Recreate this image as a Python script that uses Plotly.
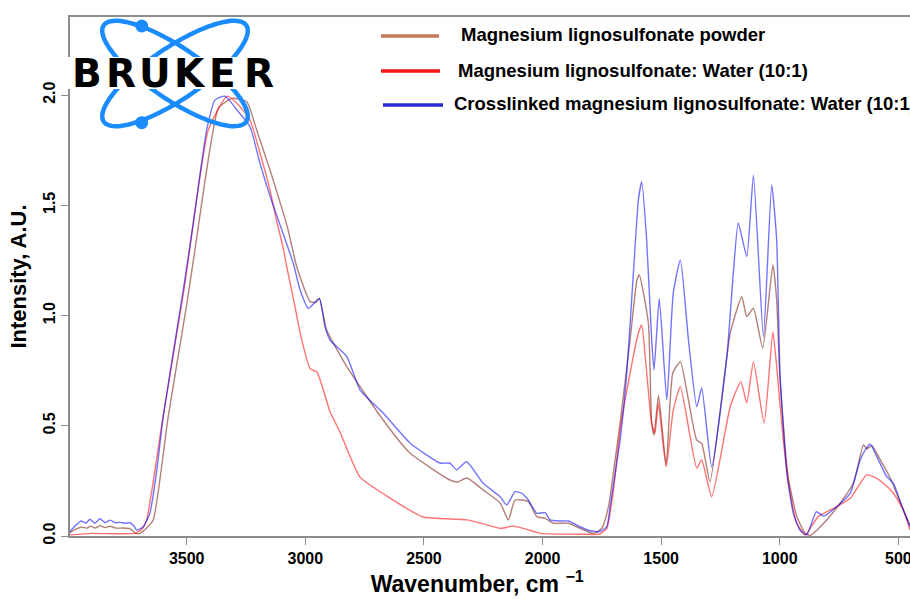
import numpy as np
import plotly.graph_objects as go

# ---------------- data ----------------
series_names = [
    "Magnesium lignosulfonate powder",
    "Magnesium lignosulfonate: Water (10:1)",
    "Crosslinked magnesium lignosulfonate: Water (10:1)",
]

wn_powder = [3992, 3970, 3945, 3920, 3905, 3885, 3865, 3845, 3822, 3800, 3770, 3740, 3715, 3697,
             3670, 3641, 3578, 3500, 3465, 3430, 3395, 3367, 3310, 3247, 3205, 3149, 3094, 3073,
             3036, 2980, 2955, 2941, 2910, 2825, 2672, 2559, 2390, 2360, 2318, 2251, 2179, 2144,
             2116, 2060, 2024, 1989, 1954, 1891, 1842, 1786, 1750, 1722, 1694, 1673, 1631, 1602,
             1592, 1554, 1540, 1530, 1511, 1479, 1451, 1419, 1385, 1350, 1329, 1294, 1209, 1160,
             1139, 1111, 1072, 1029, 1013, 999, 965, 928, 893, 872, 802, 746, 690, 647, 633, 612,
             576, 534, 479, 451]
int_powder = [0.015, 0.030, 0.040, 0.036, 0.045, 0.036, 0.047, 0.038, 0.044, 0.036, 0.036, 0.033,
              0.012, 0.012, 0.035, 0.073, 0.541, 1.050, 1.300, 1.560, 1.800, 1.940, 1.985, 1.970,
              1.841, 1.660, 1.470, 1.390, 1.220, 1.063, 1.060, 1.078, 0.934, 0.768, 0.526, 0.376,
              0.254, 0.245, 0.263, 0.209, 0.150, 0.073, 0.163, 0.156, 0.088, 0.080, 0.058, 0.058,
              0.035, 0.012, 0.035, 0.133, 0.345, 0.512, 0.889, 1.161, 1.184, 0.966, 0.512, 0.458,
              0.639, 0.322, 0.739, 0.790, 0.617, 0.435, 0.420, 0.246, 0.919, 1.085, 0.995, 1.033,
              0.853, 1.229, 1.070, 0.710, 0.269, 0.088, 0.012, 0.003, 0.073, 0.148, 0.239, 0.413,
              0.395, 0.410, 0.345, 0.262, 0.118, 0.050]

wn_water = [3992, 3900, 3800, 3720, 3690, 3669, 3600, 3511, 3409, 3329, 3275, 3233, 3191, 3149,
            3121, 3094, 3078, 3036, 3022, 2980, 2951, 2924, 2896, 2854, 2770, 2643, 2503, 2318,
            2179, 2166, 2123, 2067, 2010, 1842, 1758, 1729, 1701, 1673, 1631, 1596, 1582, 1567,
            1540, 1526, 1512, 1479, 1449, 1419, 1350, 1329, 1287, 1209, 1164, 1139, 1111, 1066,
            1029, 1013, 985, 956, 928, 893, 838, 760, 703, 661, 633, 605, 563, 521, 479, 451]
int_water = [0.005, 0.012, 0.010, 0.012, 0.030, 0.073, 0.540, 1.120, 1.841, 1.995, 1.947, 1.887,
             1.737, 1.569, 1.430, 1.310, 1.220, 1.000, 0.921, 0.760, 0.744, 0.662, 0.564, 0.472,
             0.268, 0.172, 0.086, 0.073, 0.035, 0.036, 0.045, 0.030, 0.012, 0.008, 0.009, 0.035,
             0.209, 0.481, 0.739, 0.921, 0.957, 0.813, 0.512, 0.467, 0.603, 0.314, 0.571, 0.677,
             0.308, 0.345, 0.178, 0.586, 0.700, 0.603, 0.790, 0.512, 0.927, 0.768, 0.435, 0.194,
             0.058, 0.005, 0.088, 0.133, 0.171, 0.239, 0.277, 0.269, 0.239, 0.194, 0.118, 0.027]

wn_cross = [3992, 3971, 3945, 3925, 3908, 3887, 3866, 3844, 3823, 3800, 3781, 3760, 3739, 3722,
            3711, 3683, 3669, 3655, 3626, 3599, 3514, 3493, 3472, 3444, 3416, 3381, 3339, 3282,
            3233, 3191, 3148, 3099, 3051, 3022, 2987, 2941, 2917, 2896, 2825, 2769, 2672, 2559,
            2432, 2390, 2362, 2320, 2251, 2179, 2151, 2116, 2088, 2060, 2024, 1989, 1968, 1926,
            1891, 1842, 1800, 1758, 1729, 1715, 1694, 1673, 1645, 1617, 1596, 1582, 1561, 1540,
            1530, 1508, 1476, 1449, 1419, 1385, 1350, 1329, 1287, 1223, 1196, 1175, 1139, 1111,
            1069, 1034, 1013, 999, 970, 943, 915, 886, 846, 815, 760, 703, 661, 640, 619, 591,
            549, 521, 479, 451]
int_cross = [0.020, 0.045, 0.068, 0.058, 0.076, 0.058, 0.078, 0.060, 0.072, 0.060, 0.062, 0.058,
             0.060, 0.045, 0.027, 0.042, 0.070, 0.103, 0.300, 0.541, 1.120, 1.270, 1.420, 1.640,
             1.841, 1.977, 1.995, 1.924, 1.856, 1.690, 1.539, 1.388, 1.237, 1.116, 1.033, 1.078,
             0.949, 0.889, 0.813, 0.662, 0.558, 0.422, 0.331, 0.330, 0.300, 0.337, 0.240, 0.178,
             0.141, 0.201, 0.194, 0.163, 0.103, 0.106, 0.073, 0.068, 0.068, 0.042, 0.024, 0.020,
             0.042, 0.133, 0.284, 0.435, 0.739, 1.193, 1.524, 1.607, 1.342, 0.889, 0.753, 1.078,
             0.617, 1.102, 1.252, 0.889, 0.586, 0.671, 0.314, 0.813, 1.191, 1.420, 1.267, 1.637,
             0.904, 1.592, 1.342, 0.738, 0.284, 0.103, 0.027, 0.005, 0.110, 0.090, 0.133, 0.194,
             0.345, 0.390, 0.417, 0.360, 0.269, 0.239, 0.118, 0.042]

x_tick_vals = [3500, 3000, 2500, 2000, 1500, 1000, 500]
x_tick_text = ["3500", "3000", "2500", "2000", "1500", "1000", "500"]
y_tick_vals = [0.0, 0.5, 1.0, 1.5, 2.0]
y_tick_text = ["0.0", "0.5", "1.0", "1.5", "2.0"]

# ---------------- layout geometry ----------------
W, H = 910, 599
L, R, T, B = 70, 0, 17, 63
PW, PH = W - L - R, H - T - B
FONT = "Liberation Sans, Arial, Helvetica, sans-serif"
LOGO_FONT = "DejaVu Sans, Liberation Sans, sans-serif"


def px(x):
    return (x - L) / PW


def py(y):
    return (H - B - y) / PH


line_colors = ["rgba(139,60,50,0.65)", "rgba(255,0,0,0.55)", "rgba(0,0,255,0.55)"]
legend_colors = ["#C27A57", "#F41414", "#2B2BCF"]

fig = go.Figure()
for name, xs, ys, col in zip(series_names,
                             [wn_powder, wn_water, wn_cross],
                             [int_powder, int_water, int_cross],
                             line_colors):
    fig.add_trace(go.Scatter(x=xs, y=ys, mode="lines", name=name, showlegend=False,
                             line=dict(color=col, width=1.4, shape="spline", smoothing=0.5)))

shapes = []
annotations = []

# ---- hand-drawn legend (line samples + labels) ----
leg_rows = [(36, 381, 439, 459), (71, 381, 440, 456), (105, 383, 443, 452)]
for (yy, x0, x1, xt), name, col in zip(leg_rows, series_names, legend_colors):
    shapes.append(dict(type="line", xref="paper", yref="paper", x0=px(x0), x1=px(x1),
                       y0=py(yy), y1=py(yy), line=dict(color=col, width=3.5)))
    annotations.append(dict(text=name, xref="paper", yref="paper", x=px(xt), y=py(yy - 1),
                            xanchor="left", yanchor="middle", showarrow=False,
                            font=dict(family=FONT, size=18.5, color="black", weight="bold")))

# ---- BRUKER logo ----
def ellipse_path(cx, cy, a, b, ang_deg, n=120):
    t = np.linspace(0, 2 * np.pi, n, endpoint=False)
    th = np.radians(ang_deg)
    xs = cx + a * np.cos(t) * np.cos(th) - b * np.sin(t) * np.sin(th)
    ys = cy + a * np.cos(t) * np.sin(th) + b * np.sin(t) * np.cos(th)
    pts = [f"{px(x):.5f},{py(y):.5f}" for x, y in zip(xs, ys)]
    return "M " + " L ".join(pts) + " Z"

logo_blue = "#1A8CFF"
for ang in (34, -34):
    shapes.append(dict(type="path", xref="paper", yref="paper", layer="above",
                       path=ellipse_path(175, 73.5, 86, 26, ang),
                       line=dict(color=logo_blue, width=4.5), fillcolor="rgba(0,0,0,0)"))
for (cx, cy) in [(141.7, 26), (141.7, 122.7)]:
    r = 6.5
    shapes.append(dict(type="circle", xref="paper", yref="paper", layer="above",
                       x0=px(cx - r), x1=px(cx + r), y0=py(cy - r), y1=py(cy + r),
                       line=dict(color=logo_blue, width=0), fillcolor=logo_blue))
shapes.append(dict(type="rect", xref="paper", yref="paper", layer="above",
                   x0=px(66), x1=px(280), y0=py(57), y1=py(89),
                   line=dict(width=0), fillcolor="white"))
for ch, cx in zip("BRUKER", [87, 121, 155, 189.5, 222.5, 259]):
    annotations.append(dict(text=ch, xref="paper", yref="paper", x=px(cx), y=py(73),
                            xanchor="center", yanchor="middle", showarrow=False,
                            font=dict(family=LOGO_FONT, size=39, color="black", weight="bold")))

axis_grey = "#8C8C8C"
fig.update_layout(
    width=W, height=H,
    margin=dict(l=L, r=R, t=T, b=B, pad=0, autoexpand=False),
    paper_bgcolor="white", plot_bgcolor="white",
    showlegend=False,
    shapes=shapes, annotations=annotations,
    xaxis=dict(range=[3992, 451], showgrid=False, zeroline=False, automargin=False,
               showline=True, mirror=True, linecolor=axis_grey, linewidth=1.5,
               ticks="outside", ticklen=7, tickwidth=1.2, tickcolor=axis_grey,
               tickvals=x_tick_vals, ticktext=x_tick_text, ticklabeloverflow="allow",
               tickfont=dict(family=FONT, size=16, color="black", weight="bold"),
               title=dict(text="Wavenumber, cm <sup>−1</sup>&nbsp;&nbsp;&nbsp;&nbsp;", standoff=10,
                          font=dict(family=FONT, size=23, color="black", weight="bold"))),
    yaxis=dict(range=[0, 2.354], showgrid=False, zeroline=False, automargin=False,
               showline=True, linecolor=axis_grey, linewidth=1.5,
               ticks="outside", ticklen=7, tickwidth=1.2, tickcolor=axis_grey,
               tickvals=y_tick_vals, ticktext=y_tick_text, tickangle=-90,
               tickfont=dict(family=FONT, size=16, color="black", weight="bold"),
               title=dict(text="Intensity, A.U.", standoff=8,
                          font=dict(family=FONT, size=22, color="black", weight="bold"))),
)

# remove the default 8px page margin so the figure sits at the window's top-left corner
fig.write_html("out.html", config={"displayModeBar": False},
               post_script="document.body.style.margin='0';document.body.style.overflow='hidden';")
